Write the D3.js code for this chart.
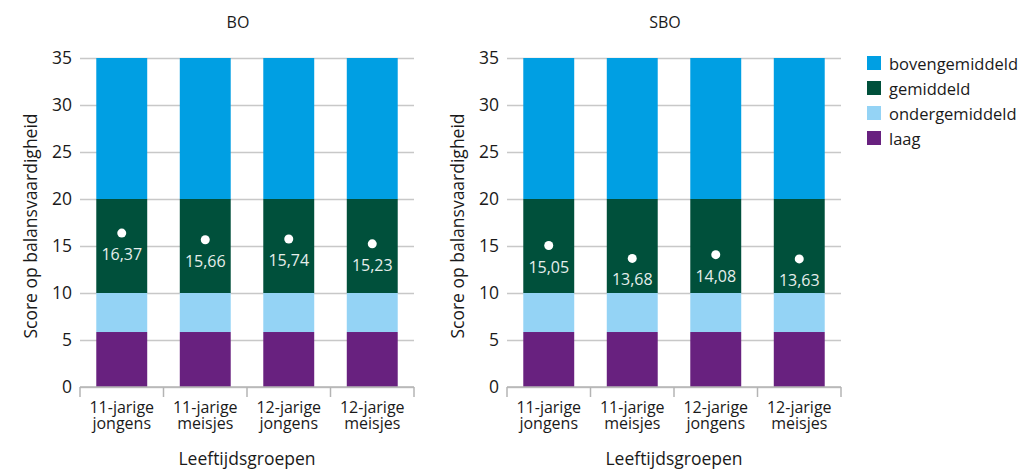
<!DOCTYPE html>
<html>
<head>
<meta charset="utf-8">
<script src="https://cdn.jsdelivr.net/npm/d3@7/dist/d3.min.js"></script>
<style>
  html, body { margin: 0; padding: 0; background: #fff; }
  svg { display: block; font-family: "Open Sans", "Noto Sans", sans-serif; }
</style>
</head>
<body>
<svg id="chart" width="1035" height="471"></svg>
<script>
// Age groups (two-line labels)
const categories = ["11-jarige jongens", "11-jarige meisjes", "12-jarige jongens", "12-jarige meisjes"];
const categoryLines = [["11-jarige", "jongens"], ["11-jarige", "meisjes"], ["12-jarige", "jongens"], ["12-jarige", "meisjes"]];

// School types
const panelTitles = ["BO", "SBO"];

// Mean balance scores per age group
const meansBO = [16.37, 15.66, 15.74, 15.23];
const meansSBO = [15.05, 13.68, 14.08, 13.63];

// Score bands (bottom to top) and their upper bounds
const levels = ["laag", "ondergemiddeld", "gemiddeld", "bovengemiddeld"];
const levelUpper = [5.85, 10, 20, 35];
const levelColors = ["#68217f", "#94d3f5", "#00503b", "#009fe3"];

// Axis ticks
const yTicks = [0, 5, 10, 15, 20, 25, 30, 35];

const svg = d3.select("#chart");
const fmt = v => d3.format(".2f")(v).replace(".", ",");

const panels = [
  { title: panelTitles[0], means: meansBO, x0: 80, x1: 414 },
  { title: panelTitles[1], means: meansSBO, x0: 507, x1: 841 }
];

const y = d3.scaleLinear().domain([0, 35]).range([387, 58]);

panels.forEach(p => {
  const g = svg.append("g");

  const band = d3.scaleBand().domain(categories).range([p.x0, p.x1]).padding(0);
  const bar = d3.scaleBand().domain(categories).range([p.x0, p.x1])
    .paddingInner(0.39).paddingOuter(0.195);

  // Horizontal gridlines + tick labels
  g.append("g")
    .attr("transform", `translate(${p.x0},0)`)
    .call(d3.axisLeft(y).tickValues(yTicks).tickSize(-(p.x1 - p.x0)).tickPadding(8))
    .call(a => a.select(".domain").remove())
    .call(a => a.selectAll(".tick line").attr("stroke", "#c8c8c8").attr("stroke-width", 1.3))
    .call(a => a.selectAll(".tick text")
      .attr("fill", "#1a1a1a").attr("font-size", 17.5).attr("font-family", "Open Sans, sans-serif"));

  // Stacked score bands
  categories.forEach(c => {
    levels.forEach((lv, i) => {
      const lo = i === 0 ? 0 : levelUpper[i - 1];
      const hi = levelUpper[i];
      g.append("rect")
        .attr("x", bar(c))
        .attr("width", bar.bandwidth())
        .attr("y", y(hi))
        .attr("height", y(lo) - y(hi))
        .attr("fill", levelColors[i]);
    });
  });

  // Bottom axis line with boundary ticks
  const xAxis = g.append("g").attr("transform", `translate(0,${y(0)})`);
  xAxis.append("line")
    .attr("x1", p.x0).attr("x2", p.x1)
    .attr("stroke", "#b4b4b4").attr("stroke-width", 1.5);
  const bounds = categories.map(c => band(c)).concat([p.x1]);
  xAxis.selectAll("line.bound").data(bounds).join("line")
    .attr("class", "bound")
    .attr("x1", d => d).attr("x2", d => d)
    .attr("y1", 0).attr("y2", 10)
    .attr("stroke", "#b4b4b4").attr("stroke-width", 1.5);

  // Category labels (one text element, two lines)
  categories.forEach((c, i) => {
    const t = g.append("text")
      .attr("text-anchor", "middle")
      .attr("font-size", 16)
      .attr("fill", "#1a1a1a");
    categoryLines[i].forEach((line, k) => {
      t.append("tspan")
        .attr("x", band(c) + band.bandwidth() / 2)
        .attr("y", 413 + k * 16)
        .text(line);
    });
  });

  // Mean markers and labels
  p.means.forEach((m, i) => {
    const cx = bar(categories[i]) + bar.bandwidth() / 2;
    g.append("circle")
      .attr("cx", cx).attr("cy", y(m)).attr("r", 4.5)
      .attr("fill", "#ffffff");
    g.append("text")
      .attr("x", cx).attr("y", y(m) + 27)
      .attr("text-anchor", "middle")
      .attr("font-size", 16)
      .attr("fill", "#e6eeeb")
      .text(fmt(m));
  });

  // Panel title
  g.append("text")
    .attr("x", (p.x0 + p.x1) / 2 - 9).attr("y", 28)
    .attr("text-anchor", "middle")
    .attr("font-size", 16)
    .attr("fill", "#1a1a1a")
    .text(p.title);

  // Axis titles
  g.append("text")
    .attr("x", (p.x0 + p.x1) / 2).attr("y", 465)
    .attr("text-anchor", "middle")
    .attr("font-size", 17.5)
    .attr("fill", "#1a1a1a")
    .text("Leeftijdsgroepen");

  g.append("text")
    .attr("transform", `translate(${p.x0 - 50},226) rotate(-90)`)
    .attr("text-anchor", "middle")
    .attr("dominant-baseline", "central")
    .attr("font-size", 17.5)
    .attr("fill", "#1a1a1a")
    .text("Score op balansvaardigheid");
});

// Legend (top to bottom: highest band first)
const legend = svg.append("g").attr("transform", "translate(867,0)");
const legendOrder = levels.map((l, i) => i).reverse();
legendOrder.forEach((idx, row) => {
  const cy = 63 + row * 25;
  legend.append("rect")
    .attr("x", 0).attr("y", cy - 7).attr("width", 14).attr("height", 14)
    .attr("fill", levelColors[idx]);
  legend.append("text")
    .attr("x", 22).attr("y", cy)
    .attr("dominant-baseline", "central")
    .attr("font-size", 16.5)
    .attr("fill", "#1a1a1a")
    .text(levels[idx]);
});
</script>
</body>
</html>
